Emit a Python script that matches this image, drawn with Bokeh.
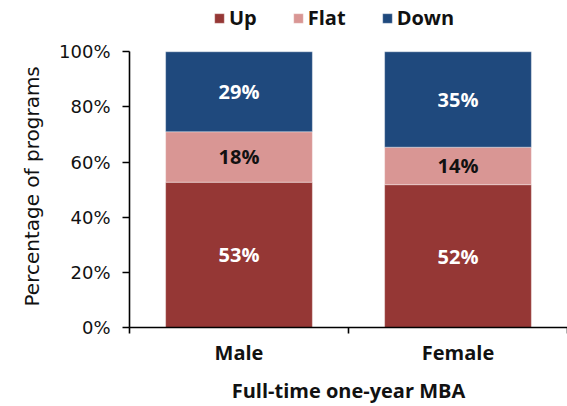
from bokeh.plotting import figure
from bokeh.models import (ColumnDataSource, Range1d, FixedTicker, PrintfTickFormatter,
                          LabelSet, Legend, LegendItem, Title)
from bokeh.core.properties import value
from bokeh.embed import file_html
from bokeh.resources import INLINE

categories = ["Male", "Female"]
up = [52.7, 51.8]
flat = [18.3, 13.6]
down = [29.0, 34.6]
up_labels = ["53%", "52%"]
flat_labels = ["18%", "14%"]
down_labels = ["29%", "35%"]
series = ["Up", "Flat", "Down"]
colors = ["#953735", "#D99694", "#1F497D"]
y_ticks = [0, 20, 40, 60, 80, 100]
y_title = "Percentage of programs"
x_title = "Full-time one-year MBA"

REG = "DejaVu Sans"
MED = "Open Sans"
INK = "#111111"

xpos = [i + 0.5 for i in range(len(categories))]
flat_top = [a + b for a, b in zip(up, flat)]
down_top = [a + b for a, b in zip(flat_top, down)]

src = ColumnDataSource(dict(x=xpos, Up=up, Flat=flat, Down=down))

# frame spans the full top of the figure; the axis is bounded at 0-100 so the
# top strip holds the legend
p = figure(width=567, height=406, output_backend="svg", toolbar_location=None,
           x_range=Range1d(0, 2), y_range=Range1d(0, 118.6),
           min_border_left=129, min_border_right=0, min_border_top=0, min_border_bottom=78)
p.outline_line_color = None
p.grid.grid_line_color = None

rs = p.vbar_stack(series, x="x", width=0.67, color=colors, source=src,
                  line_color="white", line_width=0.6, line_alpha=0.6)

lab_src = ColumnDataSource(dict(
    x=xpos * 3,
    y=[u / 2 for u in up] + [(a + b) / 2 for a, b in zip(up, flat_top)]
      + [(a + b) / 2 for a, b in zip(flat_top, down_top)],
    t=up_labels + flat_labels + down_labels,
    c=["white"] * 2 + [INK] * 2 + ["white"] * 2,
))
p.add_layout(LabelSet(x="x", y="y", text="t", source=lab_src, text_color="c",
                      text_align="center", text_baseline="middle",
                      text_font=value(MED), text_font_size="20px", text_font_style="bold"))

# y axis
ya = p.yaxis[0]
ya.bounds = (0, 100)
ya.ticker = FixedTicker(ticks=y_ticks)
ya.formatter = PrintfTickFormatter(format="%d%%")
ya.major_label_text_font = REG
ya.major_label_text_font_size = "18px"
ya.major_label_text_color = INK
ya.major_label_standoff = 12
ya.major_tick_out = 7
ya.major_tick_in = 0
ya.minor_tick_out = 0
ya.minor_tick_in = 0
ya.axis_line_width = 1.6
ya.major_tick_line_width = 1.6
ya.axis_line_color = "black"

# y-axis title, starting just above the bottom of the 0-100 span
p.add_layout(Title(text=y_title, align="left", offset=21, standoff=26,
                   text_font=REG, text_font_size="20px", text_font_style="normal",
                   text_color=INK), "left")

# x axis
xa = p.xaxis[0]
xa.ticker = FixedTicker(ticks=xpos, minor_ticks=[0, 1, 2])
xa.major_label_overrides = {xpos[i]: categories[i] for i in range(len(categories))}
xa.major_tick_out = 0
xa.major_tick_in = 0
xa.minor_tick_out = 6
xa.minor_tick_in = 0
xa.minor_tick_line_width = 1.6
xa.minor_tick_line_color = "black"
xa.axis_line_width = 1.6
xa.axis_line_color = "black"
xa.major_label_text_font = MED
xa.major_label_text_font_size = "20px"
xa.major_label_text_font_style = "bold"
xa.major_label_text_color = INK
xa.major_label_standoff = 5
xa.axis_label = x_title
xa.axis_label_text_font = MED
xa.axis_label_text_font_size = "20px"
xa.axis_label_text_font_style = "bold"
xa.axis_label_text_color = INK
xa.axis_label_standoff = 8

legend = Legend(items=[LegendItem(label=s, renderers=[r]) for s, r in zip(series, rs)],
                orientation="horizontal", location=(84, 296),
                glyph_width=12, glyph_height=12, label_standoff=4, spacing=35,
                padding=0, margin=0, border_line_alpha=0, background_fill_alpha=0,
                label_text_font=MED, label_text_font_size="20px",
                label_text_font_style="bold", label_text_color=INK)
p.add_layout(legend, "center")

open("out.html", "w").write(file_html(p, INLINE))
